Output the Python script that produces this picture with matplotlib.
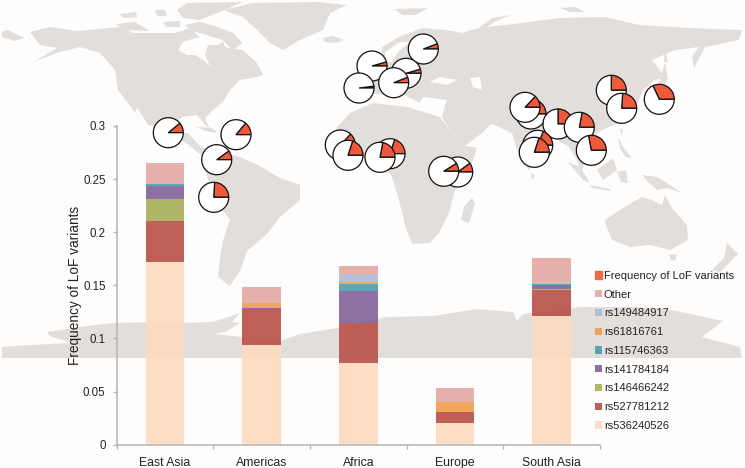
import matplotlib
matplotlib.use('Agg')
import matplotlib.pyplot as plt
from matplotlib.patches import Polygon, Patch

plt.rcParams['font.family'] = ['Liberation Sans', 'DejaVu Sans']

# chart data
regions = ['East Asia', 'Americas', 'Africa', 'Europe', 'South Asia']
rs536240526 = [0.172, 0.094, 0.077, 0.0205, 0.1215]
rs527781212 = [0.039, 0.0335, 0.038, 0.010, 0.0245]
rs146466242 = [0.020, 0.0, 0.0, 0.0, 0.001]
rs141784184 = [0.0125, 0.001, 0.030, 0.0, 0.003]
rs115746363 = [0.0015, 0.0, 0.006, 0.0, 0.001]
rs61816761 = [0.0, 0.005, 0.002, 0.010, 0.0]
rs149484917 = [0.0, 0.0, 0.007, 0.0, 0.0]
other = [0.020, 0.0145, 0.008, 0.0125, 0.025]
y_ticks = [0, 0.05, 0.1, 0.15, 0.2, 0.25, 0.3]
y_tick_labels = ['0', '0.05', '0.1', '0.15', '0.2', '0.25', '0.3']

# pies on the map: image x, image y, LoF fraction (drawn back to front)
pie_x = [168.3, 236, 216.7, 213.7, 340.3, 348, 372, 359, 423.3, 406, 393.7, 390, 380,
         457.7, 443.7, 531, 525, 558, 579.3, 537.7, 534.3, 591.3, 611.3, 621.7, 659.3]
pie_y = [132.7, 134.7, 159.7, 197.3, 145, 155.3, 66, 88, 49, 73.3, 82.7, 153.7, 157.3,
         172, 171.3, 114, 107.3, 124, 127.3, 145.3, 152.3, 150.3, 90.3, 108.3, 99.3]
pie_freq = [0.11, 0.14, 0.10, 0.24, 0.13, 0.20, 0.045, 0.02, 0.058, 0.045, 0.06, 0.2, 0.22,
            0.10, 0.09, 0.17, 0.13, 0.25, 0.22, 0.19, 0.2, 0.28, 0.25, 0.24, 0.32]

# map outlines in image pixels
chukotka = [(2,32),(8,30),(24,38),(15,41),(2,37)]
north_america = [(30,32),(50,27),(77,31),(100,29),(120,27),(133,33),(157,33),(175,33),(190,28),(200,38),(222,38),
                 (225,47),(243,50),(257,63),(263,75),(253,78),(240,80),(230,90),(223,102),(213,110),(205,118),(210,130),
                 (203,122),(197,115),(182,117),(173,127),(182,133),(188,133),(200,146),(214,155),(205,158),(185,142),
                 (163,128),(148,125),(137,107),(135,113),(147,127),(133,110),(118,90),(115,70),(100,53),(80,47),
                 (60,52),(33,62),(57,48),(40,45)]
hudson_bay = [(178,50),(183,42),(195,38),(205,38),(220,38),(223,42),(218,45),(208,45),(205,55),(210,66),(203,60),
              (195,55),(187,55)]
baffin = [(185,25),(200,22),(217,27),(233,33),(242,43),(233,50),(223,40),(207,35),(190,30)]
ellesmere = [(177,10),(187,3),(243,2),(217,13),(200,20),(183,18)]
victoria = [(116,24),(135,22),(150,31),(125,30)]
banks = [(120,14),(136,12),(137,17),(123,18)]
arctic_1 = [(155,10),(165,10),(167,16),(157,16)]
arctic_2 = [(163,22),(180,21),(180,27),(166,27)]
greenland = [(223,10),(253,3),(317,2),(347,5),(330,13),(323,30),(300,40),(283,50),(270,43),(257,30),(243,17)]
cuba = [(197,127),(212,128),(218,133),(205,131)]
hispaniola = [(220,134),(228,134),(227,137),(220,137)]
iceland = [(323,38),(333,36),(344,40),(335,43),(325,42)]
south_america = [(205,170),(215,155),(235,155),(258,165),(280,178),(300,185),(300,200),(280,217),(267,234),
                 (247,251),(240,271),(230,286),(218,277),(220,257),(223,241),(225,234),(230,220),(215,200)]
africa = [(333,140),(337,127),(350,113),(373,103),(407,107),(440,117),(450,130),(462,145),(477,148),
          (472,163),(455,190),(449,213),(439,233),(430,243),(412,244),(405,225),(399,200),(392,177),(379,160),(355,157)]
madagascar = [(472,198),(475,203),(469,223),(461,220),(464,207)]
eurasia = [(352,98),(352,85),(365,78),(375,70),(372,62),(382,55),(382,47),(399,37),(422,28),(445,30),(462,33),
           (479,28),(522,23),(559,18),(605,17),(639,25),(689,28),(742,30),(739,40),(705,47),(694,68),(692,57),
           (699,47),(675,50),(652,60),(665,77),(655,80),(643,90),(637,105),(632,115),(625,105),(619,123),
           (602,130),(592,137),(605,157),(595,167),(585,157),(582,173),(589,180),(579,167),(577,160),(569,147),
           (552,137),(539,157),(529,170),(519,157),(512,133),(499,127),(490,123),(472,112),(492,123),(482,133),
           (462,148),(442,117),(445,105),(447,100),(423,97),(420,103),(410,98),(400,92),(383,95),(372,93),(365,100)]
black_sea = [(430,82),(440,77),(457,80),(447,85)]
caspian = [(470,78),(480,77),(482,90),(473,87)]
baltic = [(385,52),(400,42),(410,42),(398,52),(392,62),(385,62)]
australia = [(605,220),(623,208),(642,197),(652,200),(662,205),(665,195),(672,208),(687,225),(688,240),(670,250),
             (650,245),(630,247),(612,240),(607,228)]
tasmania = [(669,254),(677,255),(675,261),(671,260)]
new_zealand = [(727,243),(738,254),(730,262),(720,272),(712,270),(724,258)]
borneo = [(597,170),(613,158),(617,170),(603,180)]
sumatra = [(568,162),(580,167),(590,183),(583,180)]
java = [(590,185),(610,189),(610,191),(592,188)]
sulawesi = [(617,172),(626,170),(628,183),(621,182)]
new_guinea = [(642,175),(657,177),(667,183),(682,193),(667,188),(657,190),(648,182)]
philippines = [(618,137),(623,147),(632,158),(625,157),(620,148)]
japan = [(665,63),(668,78),(662,92),(650,102),(643,106),(655,92),(660,80)]
sakhalin = [(665,50),(668,62),(664,62)]
taiwan = [(620,128),(623,130),(621,136)]
sri_lanka = [(531,172),(535,176),(532,180)]
novaya_zemlya = [(479,28),(492,18),(512,15),(498,20),(485,28)]
svalbard = [(395,9),(428,8),(416,15),(402,15)]
severnaya = [(560,8),(575,7),(585,12),(570,12)]
antarctica = [(2,347),(30,345),(72,343),(50,336),(47,332),(80,327),(113,323),(160,322),(183,323),(213,322),(222,319),
              (240,313),(232,322),(240,323),(225,332),(214,334),(280,341),(300,334),(343,327),(387,317),(433,316),
              (477,309),(513,312),(517,321),(523,314),(580,307),(633,307),(667,309),(723,321),(702,337),(740,347),
              (742,358),(2,358)]
land = [chukotka, north_america, baffin, ellesmere, victoria, banks, arctic_1, arctic_2, greenland, cuba, hispaniola,
        iceland, south_america, africa, madagascar, eurasia, australia, tasmania, new_zealand, borneo, sumatra, java,
        sulawesi, new_guinea, philippines, japan, sakhalin, taiwan, sri_lanka, novaya_zemlya, svalbard, severnaya,
        antarctica]
water = [hudson_bay, black_sea, caspian, baltic]

land_color = '#e2dedb'
sea_color = '#fdfdfd'
lof_color = '#f05a3c'

fig = plt.figure(figsize=(7.45, 4.68), dpi=100, facecolor=sea_color)

# background map, axes units are image pixels with y flipped
bg = fig.add_axes([0, 0, 1, 1])
for shape in land:
    bg.add_patch(Polygon([(x, 468 - y) for x, y in shape], closed=True, fc=land_color, ec='none'))
for shape in water:
    bg.add_patch(Polygon([(x, 468 - y) for x, y in shape], closed=True, fc=sea_color, ec='none'))
# baffin sits on top of the bay
bg.add_patch(Polygon([(x, 468 - y) for x, y in baffin], closed=True, fc=land_color, ec='none'))

for x, y, f in zip(pie_x, pie_y, pie_freq):
    bg.pie([f, 1 - f], center=(x, 468 - y), radius=15, colors=[lof_color, 'white'], startangle=0,
           wedgeprops={'edgecolor': '#111111', 'linewidth': 0.9})
bg.set_xlim(0, 745)
bg.set_ylim(0, 468)
bg.set_axis_off()

# stacked bars
ax = fig.add_axes([116.7 / 745, (468 - 444.7) / 468, (600 - 116.7) / 745, (444.7 - 126) / 468])
ax.patch.set_alpha(0)

series = [('rs536240526', rs536240526, '#fddbc0'),
          ('rs527781212', rs527781212, '#b9534a'),
          ('rs146466242', rs146466242, '#a9b15a'),
          ('rs141784184', rs141784184, '#85649a'),
          ('rs115746363', rs115746363, '#4a9fb3'),
          ('rs61816761', rs61816761, '#ee9f4f'),
          ('rs149484917', rs149484917, '#a9bcd9'),
          ('Other', other, '#e4aba5')]

pos = list(range(len(regions)))
bottom = [0] * len(regions)
handles = []
for name, vals, col in series:
    b = ax.bar(pos, vals, width=0.4, bottom=bottom, color=col, alpha=0.92, label=name)
    handles.append(b)
    bottom = [a + v for a, v in zip(bottom, vals)]

ax.set_xlim(-0.5, 4.5)
ax.set_ylim(0, 0.3)
ax.set_xticks(pos)
ax.set_xticklabels(regions, fontsize=8.8, color='#222222')
ax.set_xticks([-0.5, 0.5, 1.5, 2.5, 3.5, 4.5], minor=True)
ax.tick_params(axis='x', which='major', length=0, pad=9)
ax.tick_params(axis='x', which='minor', length=3, color='#b5b5b5', width=1)
ax.set_yticks(y_ticks)
ax.set_yticklabels(y_tick_labels, fontsize=8.3, color='#222222')
ax.tick_params(axis='y', length=3, color='#b5b5b5', width=1, pad=5)
ax.set_ylabel('Frequency of LoF variants', fontsize=9.8, color='#222222', labelpad=1)
for s in ['top', 'right']:
    ax.spines[s].set_visible(False)
for s in ['left', 'bottom']:
    ax.spines[s].set_color('#b5b5b5')
    ax.spines[s].set_linewidth(1.1)

# legend, top entry first
leg_handles = [Patch(color='#ee6b47', label='Frequency of LoF variants')] + [h for h in handles[::-1]]
leg_labels = ['Frequency of LoF variants'] + [s[0] for s in series[::-1]]
ax.legend(leg_handles, leg_labels, loc='lower left', bbox_to_anchor=(595 / 745, (468 - 431) / 468),
          bbox_transform=fig.transFigure, frameon=False, fontsize=8.0, labelspacing=0.79, handlelength=0.65,
          handleheight=0.65, handletextpad=0.15, borderpad=0, borderaxespad=0, labelcolor='#222222')

fig.savefig('out.png', dpi=100, facecolor=sea_color)
